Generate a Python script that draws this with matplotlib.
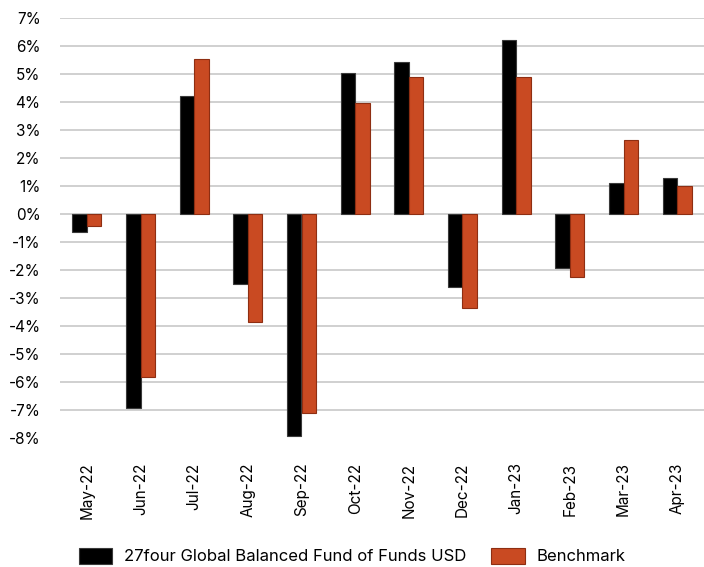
import matplotlib
matplotlib.use("Agg")
import matplotlib.pyplot as plt
import numpy as np
from matplotlib.ticker import FuncFormatter

plt.rcParams['font.family'] = ['Inter', 'DejaVu Sans']

months = ["May-22", "Jun-22", "Jul-22", "Aug-22", "Sep-22", "Oct-22",
          "Nov-22", "Dec-22", "Jan-23", "Feb-23", "Mar-23", "Apr-23"]
fund = [-0.67, -6.93, 4.20, -2.52, -7.95, 5.01, 5.41, -2.61, 6.21, -1.95, 1.08, 1.28]
bench = [-0.43, -5.83, 5.52, -3.89, -7.11, 3.95, 4.88, -3.36, 4.89, -2.26, 2.63, 0.98]
fund_name = "27four Global Balanced Fund of Funds USD"
bench_name = "Benchmark"

fig = plt.figure(figsize=(7.04, 5.67), dpi=100)
ax = fig.add_axes([60/704, 1 - 437.5/567, 644/704, 420/567])

x = np.arange(len(months))
w = 0.27
ax.bar(x - w/2, fund, w, color="#000000", edgecolor="#3a3a3a", linewidth=0.8,
       label=fund_name, zorder=3)
ax.bar(x + w/2, bench, w, color="#C94A22", edgecolor="#8E2E12", linewidth=0.8,
       label=bench_name, zorder=3)

ax.set_xlim(-0.5, len(months) - 0.5)
ax.set_ylim(-8, 7)
ax.set_yticks(np.arange(-8, 8, 1))
ax.yaxis.set_major_formatter(FuncFormatter(lambda v, p: f"{int(round(v))}%"))
for yv in range(-7, 8):
    ax.axhline(yv, color="#c8c8c8", linewidth=1.2, zorder=1)

ax.set_xticks(x)
ax.set_xticklabels(months, rotation=90, fontsize=11)
ax.tick_params(axis="x", length=0, pad=18)
ax.tick_params(axis="y", length=0, pad=14, labelsize=11)
for s in ax.spines.values():
    s.set_visible(False)

fig.legend(loc="lower center", bbox_to_anchor=(0.5, -0.022), ncol=2, frameon=False,
           fontsize=12, handlelength=2.0, handleheight=1.1, handletextpad=0.7,
           columnspacing=1.5)

fig.savefig("out.png", dpi=100)
